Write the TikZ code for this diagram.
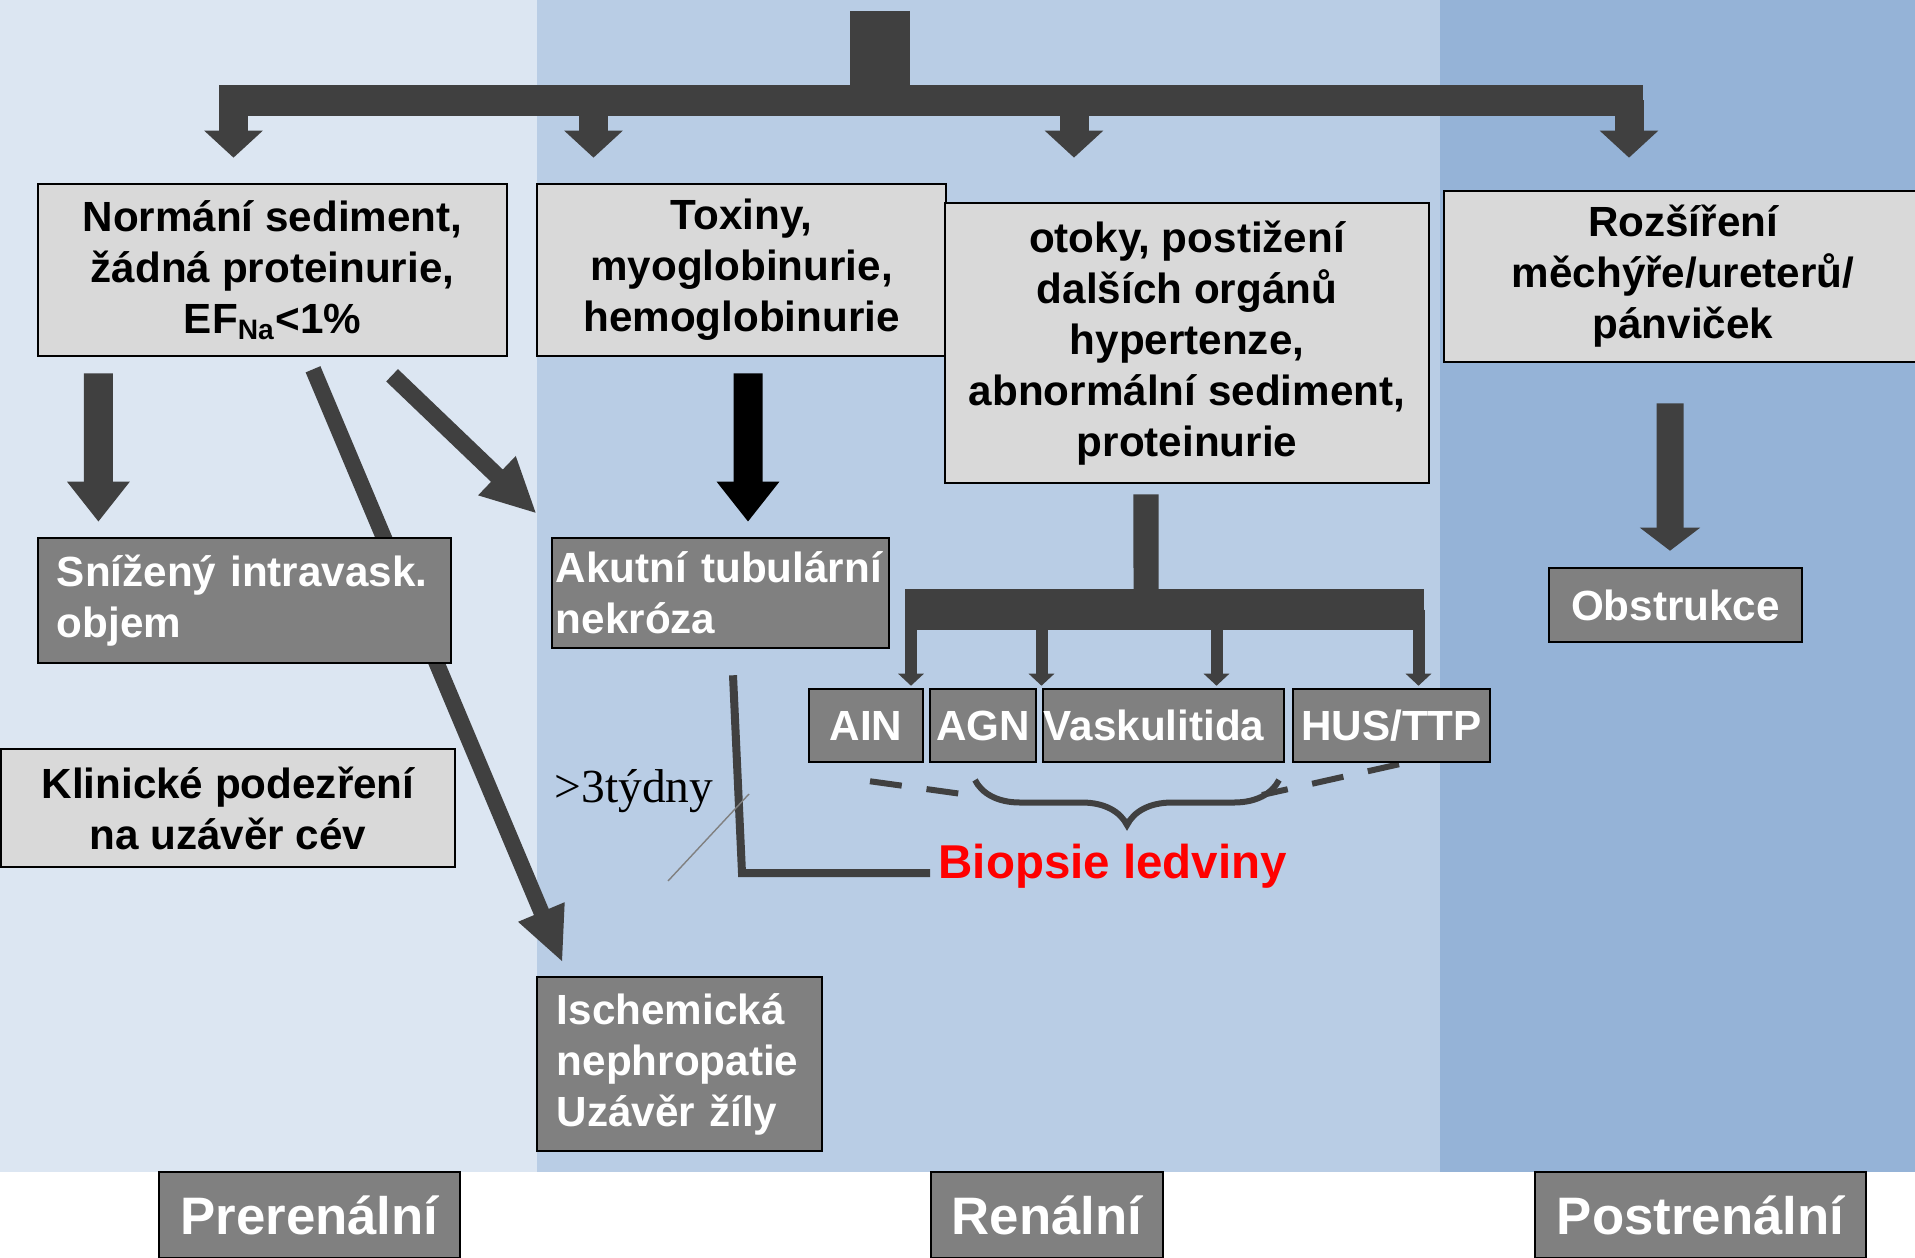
\documentclass[tikz,border=0pt]{standalone}
\usepackage{fontspec}
\setmainfont{Liberation Sans}
\newfontfamily\timesfont{Liberation Serif}
\usepackage{tikz}
\usetikzlibrary{positioning, arrows.meta, decorations.pathreplacing}
\definecolor{preband}{HTML}{DCE6F2}
\definecolor{renband}{HTML}{B9CDE5}
\definecolor{postband}{HTML}{95B3D7}
\definecolor{boxlight}{HTML}{D9D9D9}
\definecolor{boxdark}{HTML}{808080}
\definecolor{arrowgray}{HTML}{404040}
\pgfdeclarelayer{bands}
\pgfdeclarelayer{links}
\pgfsetlayers{bands,links,main}

\begin{document}
\begin{tikzpicture}[x=0.01cm, y=-0.01cm,
   txt/.style={font=\bfseries\fontsize{12pt}{14.5pt}\selectfont},
   lightbox/.style={txt, draw=black, line width=0.7pt, fill=boxlight, align=center, inner sep=0pt},
   darkbox/.style={txt, draw=black, line width=0.7pt, fill=boxdark, text=white, inner sep=0pt},
   zonebox/.style={darkbox, font=\bfseries\fontsize{15pt}{18pt}\selectfont},
   thickarrow/.style={draw=arrowgray, line width=0.29cm, -{Triangle[width=0.57cm, length=0.27cm]}},
   downarrow/.style={draw=arrowgray, line width=0.29cm, -{Triangle[width=0.60cm, length=0.40cm]}},
   diagarrow/.style={draw=arrowgray, line width=0.16cm, -{Triangle[width=0.46cm, length=0.55cm]}},
   slimarrow/.style={draw=arrowgray, line width=0.12cm, -{Triangle[width=0.25cm, length=0.12cm]}},
   fork/.style={draw=arrowgray},
   dashlink/.style={draw=arrowgray, line width=0.06cm, dash pattern=on 0.32cm off 0.25cm}]
\useasboundingbox (0,0) rectangle (1915,1258);

\begin{pgfonlayer}{bands}
\fill[preband] (0,0) rectangle (537,1172);
\fill[renband] (537,0) rectangle (1440,1172);
\fill[postband] (1440,0) rectangle (1915,1172);
\end{pgfonlayer}

\node[lightbox, minimum width=4.69cm, minimum height=1.72cm] (norm) at (272.5,270)
   {Normání sediment,\\žádná proteinurie,\\EF\textsubscript{Na}<1\%};
\node[lightbox, minimum width=4.09cm, minimum height=1.72cm] (tox) at (741.5,270)
   {Toxiny,\\myoglobinurie,\\hemoglobinurie};
\node[lightbox, minimum width=4.84cm, minimum height=2.80cm] (otoky) at (1187,343)
   {otoky, postižení\\dalších orgánů\\hypertenze,\\abnormální sediment,\\proteinurie};
\node[lightbox, minimum width=4.78cm, minimum height=1.71cm] (rozs) at (1683,276.5)
   {Rozšíření\\měchýře/ureterů/\\pánviček};

\node[darkbox, minimum width=4.13cm, minimum height=1.25cm, text width=3.75cm, align=left] (sniz) at (244.5,600.5)
   {Snížený intravask.\\objem};
\node[lightbox, minimum width=4.54cm, minimum height=1.18cm] (klin) at (228,808)
   {Klinické podezření\\na uzávěr cév};
\node[darkbox, minimum width=3.37cm, minimum height=1.10cm, text width=3.29cm, align=left] (akut) at (720.5,593)
   {Akutní tubulární\\nekróza};
\node[darkbox, minimum width=2.85cm, minimum height=1.74cm, text width=2.45cm, align=left] (isch) at (679.5,1064)
   {Ischemická\\nephropatie\\Uzávěr žíly};
\node[darkbox, minimum width=2.53cm, minimum height=0.74cm] (obst) at (1675.5,605) {Obstrukce};

\node[darkbox, minimum width=1.14cm, minimum height=0.73cm] (ain) at (866,725.5) {AIN};
\node[darkbox, minimum width=1.06cm, minimum height=0.73cm] (agn) at (983,725.5) {AGN};
\node[darkbox, minimum width=2.41cm, minimum height=0.73cm, text width=2.39cm, align=left] (vask) at (1163.5,725.5) {Vaskulitida};
\node[darkbox, minimum width=1.97cm, minimum height=0.73cm] (hus) at (1391.5,725.5) {HUS/TTP};

\node[font=\bfseries\fontsize{13.5pt}{16pt}\selectfont, text=red, inner sep=0pt, anchor=base west] (biopsie) at (938,878) {Biopsie ledviny};
\node[font=\timesfont\fontsize{13.5pt}{16pt}\selectfont, inner sep=0pt, anchor=base west] (weeks) at (554,802) {>3týdny};

\node[zonebox, minimum width=3.01cm, minimum height=0.86cm] (prer) at (309.5,1215) {Prerenální};
\node[zonebox, minimum width=2.32cm, minimum height=0.86cm] (ren) at (1047,1215) {Renální};
\node[zonebox, minimum width=3.31cm, minimum height=0.86cm] (post) at (1700.5,1215) {Postrenální};

\coordinate (root) at (880,11);
\coordinate (hub) at (880,100.5);
\coordinate (barL) at (219,100.5);
\coordinate (barR) at (1643,100.5);
\coordinate (hub2) at (1146,609.5);
\coordinate (bar2L) at (905,609.5);
\coordinate (bar2R) at (1424,609.5);
\coordinate (bend) at (742,873);
\coordinate (dashL) at (962,794);
\coordinate (dashR) at (1262,795);
\coordinate (brL) at (975,780);
\coordinate (brR) at (1279,780);

\begin{pgfonlayer}{links}
\draw[fork, line width=0.59cm] (root) -- (hub);
\draw[fork, line width=0.31cm] (barL) -- (barR);
\foreach \x/\n/\s in {233.5/norm/0.25cm, 593.5/tox/0.25cm, 1074/otoky/0.44cm, 1629/rozs/0.32cm}
  \draw[thickarrow, shorten >=\s] (\x,100.5) -- (\n.north -| \x,0);

\draw[downarrow, shorten <=0.16cm, shorten >=0.15cm] ([xshift=-1.74cm]norm.south) -- ([xshift=-1.46cm]sniz.north);
\draw[downarrow, draw=black, shorten <=0.16cm, shorten >=0.15cm] ([xshift=0.065cm]tox.south) -- ([xshift=0.275cm]akut.north);
\draw[downarrow, line width=0.27cm, -{Triangle[width=0.59cm, length=0.23cm]}, shorten <=0.40cm, shorten >=0.16cm]
   ([xshift=-0.13cm]rozs.south) -- ([xshift=-0.055cm]obst.north);
\draw[diagarrow] ([xshift=0.405cm, yshift=-0.12cm]norm.south) -- ([xshift=0.27cm, yshift=0.13cm]isch.north west);
\draw[diagarrow, line width=0.17cm, -{Triangle[width=0.50cm, length=0.55cm]}]
   ([xshift=1.195cm, yshift=-0.18cm]norm.south) -- ([xshift=-0.14cm, yshift=0.23cm]akut.north west);

\draw[fork, line width=0.25cm, shorten <=0.10cm] ([xshift=-0.41cm]otoky.south) -- (hub2);
\draw[fork, line width=0.41cm] (bar2L) -- (bar2R);
\foreach \x/\n in {911/ain, 1041.5/agn, 1216.5/vask, 1418.5/hus}
  \draw[slimarrow, shorten >=0.02cm] (\x,609.5) -- (\n.north -| \x,0);

\draw[fork, line width=0.08cm] ([xshift=0.125cm, yshift=-0.26cm]akut.south) -- (bend) -- ([xshift=-0.08cm]biopsie.west |- bend);
\draw[dashlink] ([xshift=0.04cm, yshift=-0.18cm]ain.south) -- (dashL);
\draw[dashlink] ([xshift=0.075cm, yshift=-0.01cm]hus.south) -- (dashR);
\draw[fork, line width=0.06cm, decorate, decoration={brace, mirror, amplitude=0.45cm}] (brL) -- (brR);
\draw[gray, line width=0.4pt] (668,881) -- (749,794);
\end{pgfonlayer}
\end{tikzpicture}
\end{document}
